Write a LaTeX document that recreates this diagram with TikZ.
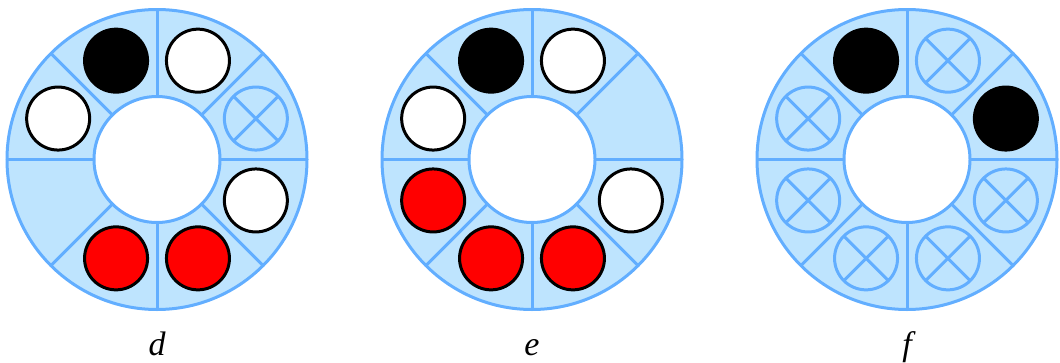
\documentclass[tikz,border=0pt]{standalone}
\usepackage{fontspec}
\setmainfont{Liberation Serif}
\definecolor{ringfill}{RGB}{190,228,254}
\definecolor{ringblue}{RGB}{98,174,255}
\tikzset{
  ringline/.style={draw=ringblue, line width=3},
  stone/.style={draw=black, line width=3},
  lbl/.style={font=\fontsize{34}{38}\selectfont\itshape, anchor=base}
}
\newcommand\mydiscb{\draw[stone, fill=black] (0,0) circle[radius=31.5];}
\newcommand\mydiscw{\draw[stone, fill=white] (0,0) circle[radius=31.5];}
\newcommand\mydiscr{\draw[stone, fill=red] (0,0) circle[radius=31.5];}
\newcommand\mydiscx{\draw[ringline] (0,0) circle[radius=31.5] (45:31.5) -- (225:31.5) (135:31.5) -- (-45:31.5);}
\newcommand\mydiscn{}
\newcommand\myring[2]{%
  \begin{scope}[shift={(#1,-159.5)}]
    \fill[ringfill, even odd rule] (0,0) circle[radius=150] (0,0) circle[radius=63];
    \draw[ringline] (0,0) circle[radius=150] (0,0) circle[radius=63];
    \foreach \a in {0,45,...,315} {\draw[ringline] (\a:63) -- (\a:150);}
    \foreach \t [count=\i] in {#2} {
      \pgfmathsetmacro\ang{112.5-45*(\i-1)}
      \begin{scope}[shift={(\ang:107)}]
        \csname mydisc\t\endcsname
      \end{scope}
    }
  \end{scope}}
\begin{document}
\begin{tikzpicture}[x=1pt,y=1pt]
\useasboundingbox (0,-362) rectangle (1060,0);
\myring{157}{b,w,x,w,r,r,n,w}
\myring{532}{b,w,n,w,r,r,r,w}
\myring{907}{b,x,b,x,x,x,x,x}
\node[lbl] (ld) at (157,-355) {d};
\node[lbl] (le) at (532,-355) {e};
\node[lbl] (lf) at (907,-355) {f};
\end{tikzpicture}
\end{document}
